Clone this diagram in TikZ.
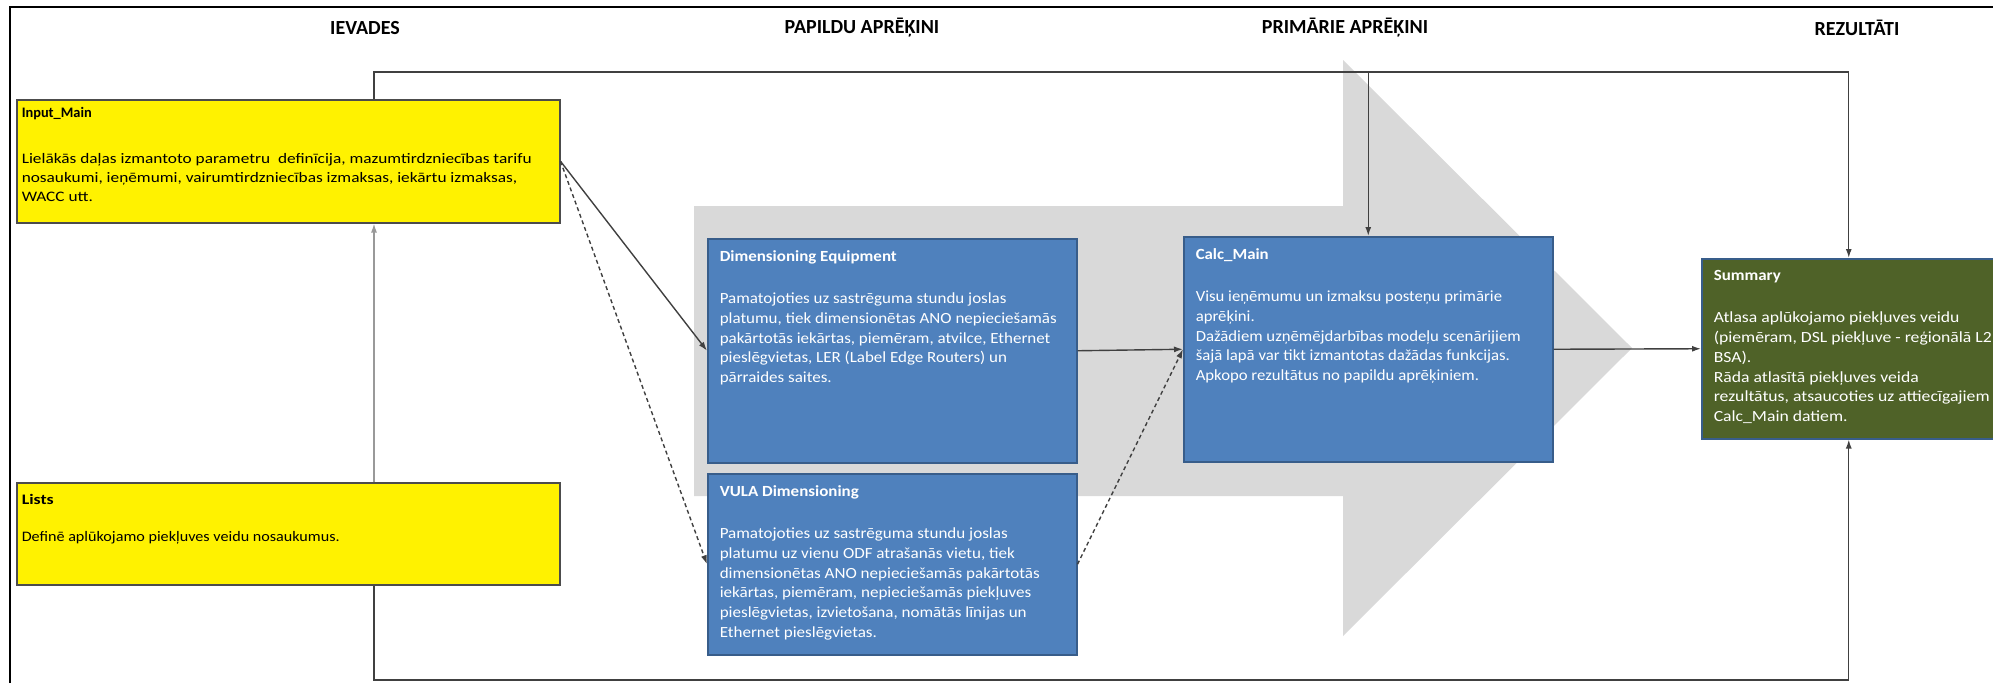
\documentclass[tikz,border=0pt]{standalone}
\usepackage{fontspec}
\usepackage{graphicx}
\setmainfont{Carlito}
\usetikzlibrary{arrows.meta,calc}
\definecolor{mgray}{HTML}{D9D9D9}
\definecolor{mblue}{HTML}{4F81BD}
\definecolor{mblueline}{HTML}{385D8A}
\definecolor{mgreen}{HTML}{4F6228}
\definecolor{mline}{HTML}{404040}
\tikzstyle{sheet}=[anchor=north west, inner xsep=12pt, inner ysep=12pt, line width=1.5]
\tikzstyle{yellowsheet}=[sheet, draw=black!70, fill=yellow, inner xsep=5pt, font=\fontsize{14.5}{18.5}\selectfont]
\tikzstyle{bluesheet}=[sheet, draw=mblueline, fill=mblue, text=white, font=\fontsize{15.5}{19.7}\selectfont]
\tikzstyle{greensheet}=[bluesheet, fill=mgreen]
\tikzstyle{header}=[font=\fontsize{20}{24}\selectfont\bfseries]
\tikzstyle{l1}=[line width=1.4, draw=mline]
\tikzstyle{l2}=[l1, dash pattern=on 4pt off 3pt]
% box width, box height, gap, title width, title, body width, body lines
\newcommand{\sheet}[7]{\parbox[t][#2pt][t]{#1pt}{%
    \resizebox{#4pt}{\height}{\bfseries #5}\par\vspace{#3pt}%
    \resizebox{#6pt}{\height}{\begin{tabular}[t]{@{}l@{}}#7\end{tabular}}}}

\begin{document}
\begin{tikzpicture}[x=1pt,y=-1pt,>={Latex[length=9pt,width=6pt]}]
    \useasboundingbox (0,0) rectangle (1993,683);
    \fill[mgray] (694,206) -- (1343,206) -- (1343,60) -- (1632,348) -- (1343,636) -- (1343,496) -- (694,496) -- cycle;
    \draw[line width=2] (10,683) -- (10,7) -- (1993,7);

    \node[header] (h1) at (365,28) {IEVADES};
    \node[header] (h2) at (862,28) {PAPILDU APRĒĶINI};
    \node[header] (h3) at (1345,28) {PRIMĀRIE APRĒĶINI};
    \node[header] (h4) at (1857,28) {REZULTĀTI};

    \node[yellowsheet, inner ysep=8pt, font=\fontsize{14.5}{19.2}\selectfont] (im) at (16,99) {\sheet{533}{107}{26}{70}{Input\_Main}{510}{Lielākās daļas izmantoto parametru~ definīcija, mazumtirdzniecības tarifu\\
        nosaukumi, ieņēmumi, vairumtirdzniecības izmaksas, iekārtu izmaksas,\\
        WACC utt.}};
    \node[yellowsheet] (ls) at (16,482) {\sheet{533}{78}{18.5}{32}{Lists}{318}{Definē aplūkojamo piekļuves veidu nosaukumus.}};
    \node[bluesheet] (de) at (707,238) {\sheet{345}{200}{22.3}{177}{Dimensioning Equipment}{337}{Pamatojoties uz sastrēguma stundu joslas\\
        platumu, tiek dimensionētas ANO nepieciešamās\\
        pakārtotās iekārtas, piemēram, atvilce, Ethernet\\
        pieslēgvietas, LER (Label Edge Routers) un\\
        pārraides saites.}};
    \node[bluesheet] (vd) at (707,473) {\sheet{345}{157}{22.3}{139}{VULA Dimensioning}{320}{Pamatojoties uz sastrēguma stundu joslas\\
        platumu uz vienu ODF atrašanās vietu, tiek\\
        dimensionētas ANO nepieciešamās pakārtotās\\
        iekārtas, piemēram, nepieciešamās piekļuves\\
        pieslēgvietas, izvietošana, nomātās līnijas un\\
        Ethernet pieslēgvietas.}};
    \node[bluesheet] (cm) at (1183,236) {\sheet{345}{201}{22.3}{73}{Calc\_Main}{325}{Visu ieņēmumu un izmaksu posteņu primārie\\
        aprēķini.\\
        Dažādiem uzņēmējdarbības modeļu scenārijiem\\
        šajā lapā var tikt izmantotas dažādas funkcijas.\\
        Apkopo rezultātus no papildu aprēķiniem.}};
    \node[greensheet] (sm) at (1701,258) {\sheet{270}{156}{22.3}{67}{Summary}{278}{Atlasa aplūkojamo piekļuves veidu\\
        (piemēram, DSL piekļuve - reģionālā L2\\
        BSA).\\
        Rāda atlasītā piekļuves veida\\
        rezultātus, atsaucoties uz attiecīgajiem\\
        Calc\_Main datiem.}};

    \coordinate (kt) at (374,72);
    \coordinate (kb) at (374,680);
    \draw[l1,->] (kt |- im.north) -- (kt) -| (sm.north);
    \draw[l1,->] (cm.north |- kt) -- (cm.north);
    \draw[l1,->] (kb |- ls.south) -- (kb) -| (sm.south);
    \draw[l1,->,draw=gray!80] (kb |- ls.north) -- (kb |- im.south);
    \draw[l1,->] (im.east) -- (de.west);
    \draw[l2,->] (im.east) -- (vd.west);
    \draw[l1,->] (de.east) -- (cm.west);
    \draw[l2,->] (vd.east) -- (cm.west);
    \draw[l1,->] (cm.east) -- (sm.west);
\end{tikzpicture}
\end{document}
